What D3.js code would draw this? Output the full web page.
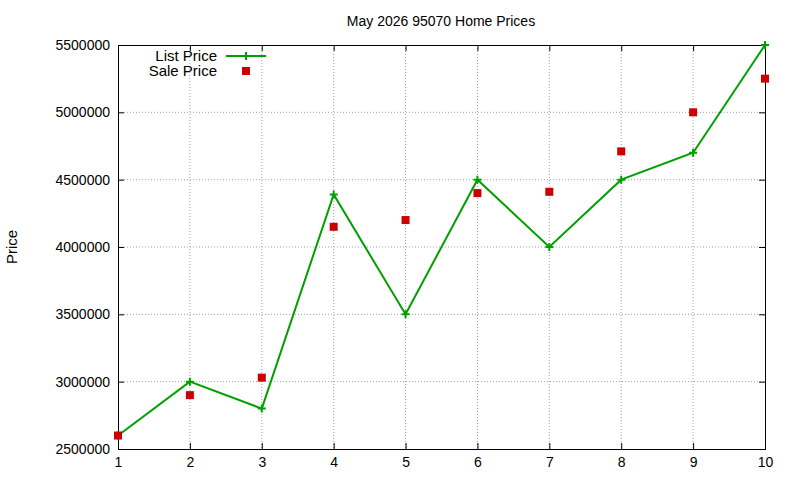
<!DOCTYPE html>
<html>
<head>
<meta charset="utf-8">
<script src="https://cdn.jsdelivr.net/npm/d3@7"></script>
<style>
body { margin: 0; background: #fff; }
text { font-family: "Liberation Sans", Arial, sans-serif; }
</style>
</head>
<body>
<svg id="chart" width="800" height="480"></svg>
<script>
// chart data
const months = [1, 2, 3, 4, 5, 6, 7, 8, 9, 10];
const listPrice = [2600000, 3000000, 2800000, 4390000, 3500000, 4500000, 4000000, 4500000, 4700000, 5500000];
const salePrice = [2600000, 2900000, 3030000, 4150000, 4200000, 4400000, 4410000, 4710000, 5000000, 5250000];
const yTicks = [2500000, 3000000, 3500000, 4000000, 4500000, 5000000, 5500000];

const svg = d3.select("#chart");
const plotLeft = 118, plotRight = 765, plotTop = 45, plotBottom = 449;

const x = d3.scaleLinear().domain([1, 10]).range([plotLeft, plotRight]);
const y = d3.scaleLinear().domain([2500000, 5500000]).range([plotBottom, plotTop]);

// grid
svg.append("g").selectAll("line").data(months.slice(1, -1)).join("line")
    .attr("x1", d => x(d)).attr("x2", d => x(d))
    .attr("y1", plotTop).attr("y2", plotBottom)
    .attr("stroke", "#a0a0a0").attr("stroke-dasharray", "1,2");
svg.append("g").selectAll("line").data(yTicks.slice(1, -1)).join("line")
    .attr("x1", plotLeft).attr("x2", plotRight)
    .attr("y1", d => y(d)).attr("y2", d => y(d))
    .attr("stroke", "#a0a0a0").attr("stroke-dasharray", "1,2");

// axes
let xAxis = svg.append("g").attr("transform", `translate(0,${plotBottom})`)
    .call(d3.axisBottom(x).tickValues(months).tickSize(-6).tickPadding(8).tickFormat(d3.format("d")));
let xTop = svg.append("g").attr("transform", `translate(0,${plotTop})`)
    .call(d3.axisTop(x).tickValues(months).tickSize(-6).tickFormat(""));
let yAxis = svg.append("g").attr("transform", `translate(${plotLeft},0)`)
    .call(d3.axisLeft(y).tickValues(yTicks).tickSize(-6).tickPadding(8).tickFormat(d3.format("d")));
let yRight = svg.append("g").attr("transform", `translate(${plotRight},0)`)
    .call(d3.axisRight(y).tickValues(yTicks).tickSize(-6).tickFormat(""));
[xAxis, xTop, yAxis, yRight].forEach(a => {
    a.selectAll("path, line").attr("stroke", "#000");
    a.selectAll("text").attr("font-size", 14).attr("fill", "#000")
        .style("font-family", "Liberation Sans, Arial, sans-serif");
});

// titles
svg.append("text").attr("x", 441).attr("y", 26).attr("text-anchor", "middle")
    .attr("font-size", 14).text("May 2026 95070 Home Prices");
svg.append("text").attr("transform", "translate(17,247) rotate(-90)")
    .attr("text-anchor", "middle").attr("font-size", 15).text("Price");

// list price line
const green = "#00a000";
svg.append("path").datum(months)
    .attr("fill", "none").attr("stroke", green).attr("stroke-width", 2)
    .attr("d", d3.line().x(d => x(d)).y((d, i) => y(listPrice[i])));
svg.append("g").selectAll("path").data(months).join("path")
    .attr("d", (d, i) => `M${x(d) - 4},${y(listPrice[i])}h8M${x(d)},${y(listPrice[i]) - 4}v8`)
    .attr("stroke", green).attr("stroke-width", 2);

// sale price points
svg.append("g").selectAll("rect").data(months).join("rect")
    .attr("x", d => x(d) - 4).attr("y", (d, i) => y(salePrice[i]) - 4)
    .attr("width", 8).attr("height", 8).attr("fill", "#cc0000");

// legend
svg.append("text").attr("x", 217).attr("y", 61).attr("text-anchor", "end")
    .attr("font-size", 15).text("List Price");
svg.append("line").attr("x1", 226).attr("x2", 266).attr("y1", 56).attr("y2", 56)
    .attr("stroke", green).attr("stroke-width", 2);
svg.append("path").attr("d", "M242,56h8M246,52v8").attr("stroke", green).attr("stroke-width", 2);
svg.append("text").attr("x", 217).attr("y", 76).attr("text-anchor", "end")
    .attr("font-size", 15).text("Sale Price");
svg.append("rect").attr("x", 242).attr("y", 67).attr("width", 8).attr("height", 8).attr("fill", "#cc0000");
</script>
</body>
</html>
